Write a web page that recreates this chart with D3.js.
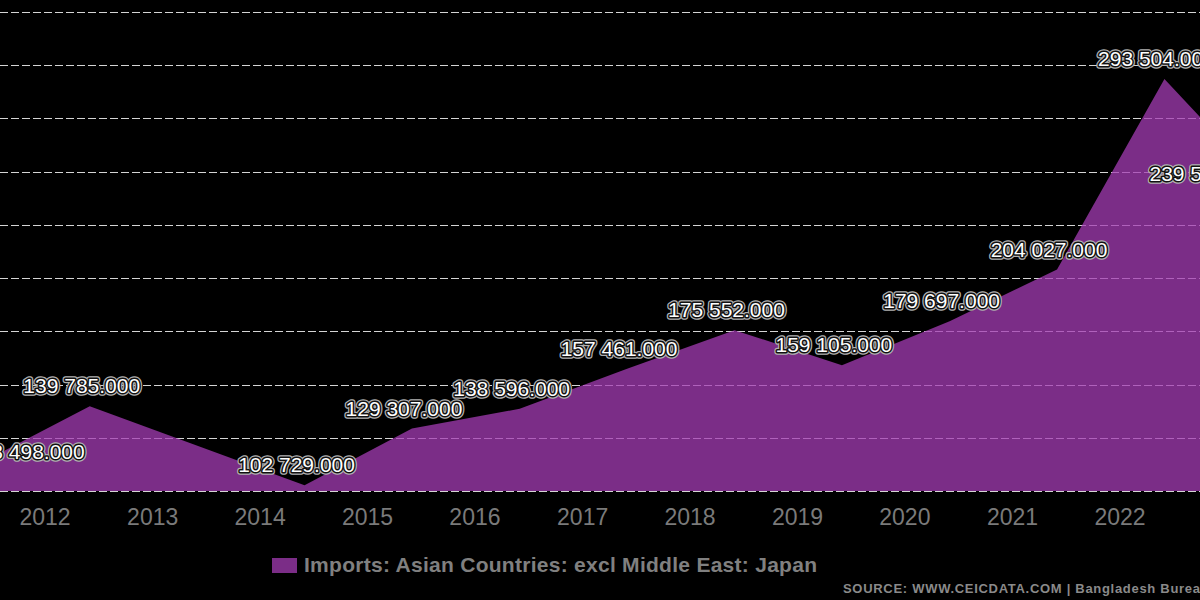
<!DOCTYPE html>
<html><head><meta charset="utf-8">
<script src="https://cdn.jsdelivr.net/npm/d3@7"></script>
<style>html,body{margin:0;padding:0;background:#000;overflow:hidden}svg{display:block}</style>
</head><body>
<svg id="chart" width="1200" height="600"></svg>
<script>
// ---- data ----
const periods = ["2011-06-01","2012-06-01","2014-06-01","2015-06-01","2016-06-01","2017-06-01","2018-06-01","2019-06-01","2020-06-01","2021-06-01","2022-06-01","2023-06-01"];
const values  = [113498,139785,102729,129307,138596,157461,175552,159105,179697,204027,293504,239500];
const yearTicks = [2012,2013,2014,2015,2016,2017,2018,2019,2020,2021,2022];
const gridValues = [100000,125000,150000,175000,200000,225000,250000,275000,300000,325000];
const seriesName = "Imports: Asian Countries: excl Middle East: Japan";
const sourceText = "SOURCE: WWW.CEICDATA.COM | Bangladesh Bureau of Statistics";

const parse = d3.timeParse("%Y-%m-%d");
const data = periods.map((p,i)=>({date:parse(p), value:values[i]}));
const FONT = "'Liberation Sans', Arial, sans-serif";

const svg = d3.select("#chart");
svg.append("rect").attr("width",1200).attr("height",600).attr("fill","#000");

const plotLeft = -32, plotRight = 1267, plotTop = -60, plotBottom = 491;
const x = d3.scaleTime()
  .domain([new Date(2012,0,1), new Date(2022,0,1)])
  .range([45, 1120]);
const y = d3.scaleLinear().domain([100000,325000]).range([491,12]);

const locale = d3.formatLocale({decimal:".", thousands:" ", grouping:[3], currency:["",""]});
const fmt = locale.format(",.3f");

svg.append("clipPath").attr("id","plotclip").append("rect")
  .attr("x",plotLeft).attr("y",plotTop).attr("width",plotRight-plotLeft).attr("height",plotBottom-plotTop+1);

// grid
svg.append("g").selectAll("line").data(gridValues).join("line")
  .attr("x1",0).attr("x2",1200)
  .attr("y1",d=>Math.round(y(d))+0.5).attr("y2",d=>Math.round(y(d))+0.5)
  .attr("stroke","#d4d4d4").attr("stroke-width",1).attr("stroke-dasharray","8,3");

// area
const area = d3.area().x(d=>x(d.date)).y0(y(100000)).y1(d=>y(d.value));
svg.append("path").datum(data).attr("clip-path","url(#plotclip)")
  .attr("d",area).attr("fill","#a43cb4").attr("fill-opacity",0.75);

// x axis labels
svg.append("g").selectAll("text").data(yearTicks).join("text")
  .attr("x",d=>x(new Date(d,0,1))).attr("y",525)
  .attr("text-anchor","middle")
  .attr("font-family",FONT)
  .attr("font-size",23).attr("fill","#7a7a7a")
  .text(d=>d);

// data labels
const lab = svg.append("g").attr("font-family",FONT).attr("font-size",21);
const tmp = lab.append("text").text(fmt(values[0]));
const lw = tmp.node().getComputedTextLength() + 3;
tmp.remove();
data.forEach(d=>{
  let cx = x(d.date) - 8;
  let dy = -13;
  if (cx - lw/2 < plotLeft) { cx = plotLeft + lw/2; dy = -3; }
  if (cx + lw/2 > plotRight) { cx = plotRight - lw/2; }
  const ty = y(d.value) + dy;
  lab.append("text").attr("x",cx).attr("y",ty).attr("text-anchor","middle")
    .attr("fill","#aaa").attr("stroke","#b0b0b0").attr("stroke-width",5.5).attr("stroke-linejoin","round")
    .text(fmt(d.value));
  lab.append("text").attr("x",cx).attr("y",ty).attr("text-anchor","middle")
    .attr("fill","#fff").attr("stroke","#111").attr("stroke-width",3).attr("stroke-linejoin","round")
    .attr("paint-order","stroke")
    .text(fmt(d.value));
});

// legend
svg.append("rect").attr("x",272).attr("y",558).attr("width",25).attr("height",15).attr("fill","#7b2d87");
const leg = svg.append("text").attr("x",304).attr("y",572)
  .attr("font-family",FONT).attr("font-weight","bold")
  .attr("font-size",21).attr("fill","#808080").text(seriesName);
{
  const w = leg.node().getComputedTextLength();
  const ls = (513 - w) / (seriesName.length - 1);
  leg.attr("letter-spacing", ls);
}

// source
const src = svg.append("text").attr("x",843).attr("y",593)
  .attr("font-family",FONT).attr("font-weight","bold")
  .attr("font-size",13).attr("fill","#8a8a8a").text(sourceText.slice(0,43));
{
  const w = src.node().getComputedTextLength();
  const ls = (357 - w) / 42;
  src.attr("letter-spacing", ls).text(sourceText);
}
</script>
</body></html>
